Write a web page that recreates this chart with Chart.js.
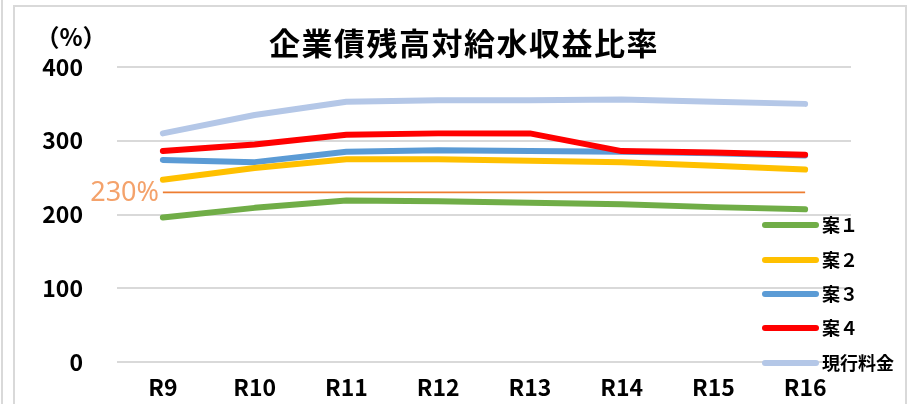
<!DOCTYPE html>
<html>
<head>
<meta charset="utf-8">
<script src="https://cdn.jsdelivr.net/npm/chart.js@4/dist/chart.umd.min.js"></script>
<style>
  html, body { margin: 0; padding: 0; background: #ffffff; }
  #wrap { width: 909px; height: 404px; }
</style>
</head>
<body>
<div id="wrap"><canvas id="c" width="909" height="404"></canvas></div>
<script>
const categories = ['R9', 'R10', 'R11', 'R12', 'R13', 'R14', 'R15', 'R16'];
const plan1 = [196, 209, 219, 218, 216, 214, 210, 207];
const plan2 = [247, 263, 275, 275, 273, 271, 266, 261];
const plan3 = [274, 271, 285, 287, 286, 285, 283, 280];
const plan4 = [286, 295, 308, 310, 310, 286, 284, 281];
const current = [310, 335, 353, 355, 355, 356, 353, 350];
const thresholdValue = 230;
const threshold = categories.map(() => thresholdValue);
const yTicks = [0, 100, 200, 300, 400];
const seriesNames = ['案１', '案２', '案３', '案４', '現行料金'];
const seriesColors = ['#70AD47', '#FFC000', '#5B9BD5', '#FF0000', '#B4C7E7'];
const titleText = '企業債残高対給水収益比率';
const unitText = '（%）';
const thresholdLabel = '230%';

const tickFont = { family: "'Noto Sans CJK JP', sans-serif", size: 23, weight: 'bold' };

const seriesData = [plan1, plan2, plan3, plan4, current];
const datasets = seriesData.map((d, i) => ({
  label: seriesNames[i],
  data: d,
  borderColor: seriesColors[i],
  backgroundColor: seriesColors[i],
  borderWidth: 6,
  borderCapStyle: 'round',
  borderJoinStyle: 'round',
  pointRadius: 0,
  tension: 0,
  fill: false,
  order: i === 3 ? 0 : 1
}));
datasets.push({
  label: 'threshold',
  data: threshold,
  borderColor: '#ED7D31',
  borderWidth: 1.8,
  pointRadius: 0,
  fill: false,
  order: 3
});

const decor = {
  id: 'decor',
  beforeDraw(chart) {
    const ctx = chart.ctx;
    ctx.save();
    ctx.fillStyle = '#ffffff';
    ctx.fillRect(0, 0, chart.width, chart.height);
    ctx.strokeStyle = '#D9D9D9';
    ctx.lineWidth = 2;
    ctx.strokeRect(14, 6, 892, 420);
    ctx.beginPath();
    ctx.moveTo(2, 0); ctx.lineTo(2, chart.height);
    ctx.stroke();
    ctx.restore();
  },
  afterDraw(chart) {
    const ctx = chart.ctx;
    const ys = chart.scales.y;
    ctx.save();
    ctx.fillStyle = '#000000';
    ctx.font = "bold 31px 'Noto Sans CJK JP', sans-serif";
    ctx.textAlign = 'center';
    ctx.textBaseline = 'middle';
    if (ctx.letterSpacing !== undefined) ctx.letterSpacing = '1.5px';
    ctx.fillText(titleText, 464, 43);
    if (ctx.letterSpacing !== undefined) ctx.letterSpacing = '0px';
    ctx.font = "bold 24px 'Noto Sans CJK JP', sans-serif";
    ctx.fillText(unitText, 71, 37);
    ctx.fillStyle = '#F4A26B';
    ctx.font = "27px 'Noto Sans', sans-serif";
    ctx.textAlign = 'right';
    ctx.fillText(thresholdLabel, 159, ys.getPixelForValue(thresholdValue) + 1);
    const legendY = [225, 260, 294, 328, 363];
    ctx.font = "bold 18px 'Noto Sans CJK JP', sans-serif";
    ctx.textAlign = 'left';
    for (let i = 0; i < seriesNames.length; i++) {
      ctx.strokeStyle = seriesColors[i];
      ctx.lineWidth = 6;
      ctx.lineCap = 'round';
      ctx.beginPath();
      ctx.moveTo(765, legendY[i]);
      ctx.lineTo(816, legendY[i]);
      ctx.stroke();
      ctx.fillStyle = '#000000';
      ctx.fillText(seriesNames[i], 822, legendY[i]);
    }
    ctx.restore();
  }
};

new Chart(document.getElementById('c'), {
  type: 'line',
  data: { labels: categories, datasets },
  options: {
    responsive: false,
    animation: false,
    layout: { padding: { left: 0, right: 58, top: 67, bottom: 0 } },
    plugins: { legend: { display: false }, title: { display: false }, tooltip: { enabled: false } },
    scales: {
      x: {
        offset: true,
        grid: { display: false, drawTicks: false },
        border: { display: false },
        ticks: { color: '#000000', font: tickFont, padding: 11, maxRotation: 0 },
        afterFit(s) { s.height = 42; }
      },
      y: {
        min: 0, max: 400,
        afterBuildTicks(s) { s.ticks = yTicks.map(v => ({ value: v })); },
        grid: { color: '#D9D9D9', lineWidth: 2, drawTicks: false },
        border: { display: false },
        ticks: { color: '#000000', font: tickFont, padding: 34 },
        afterFit(s) { s.width = 117; s.paddingTop = 0; s.paddingBottom = 0; }
      }
    }
  },
  plugins: [decor]
});
</script>
</body>
</html>
